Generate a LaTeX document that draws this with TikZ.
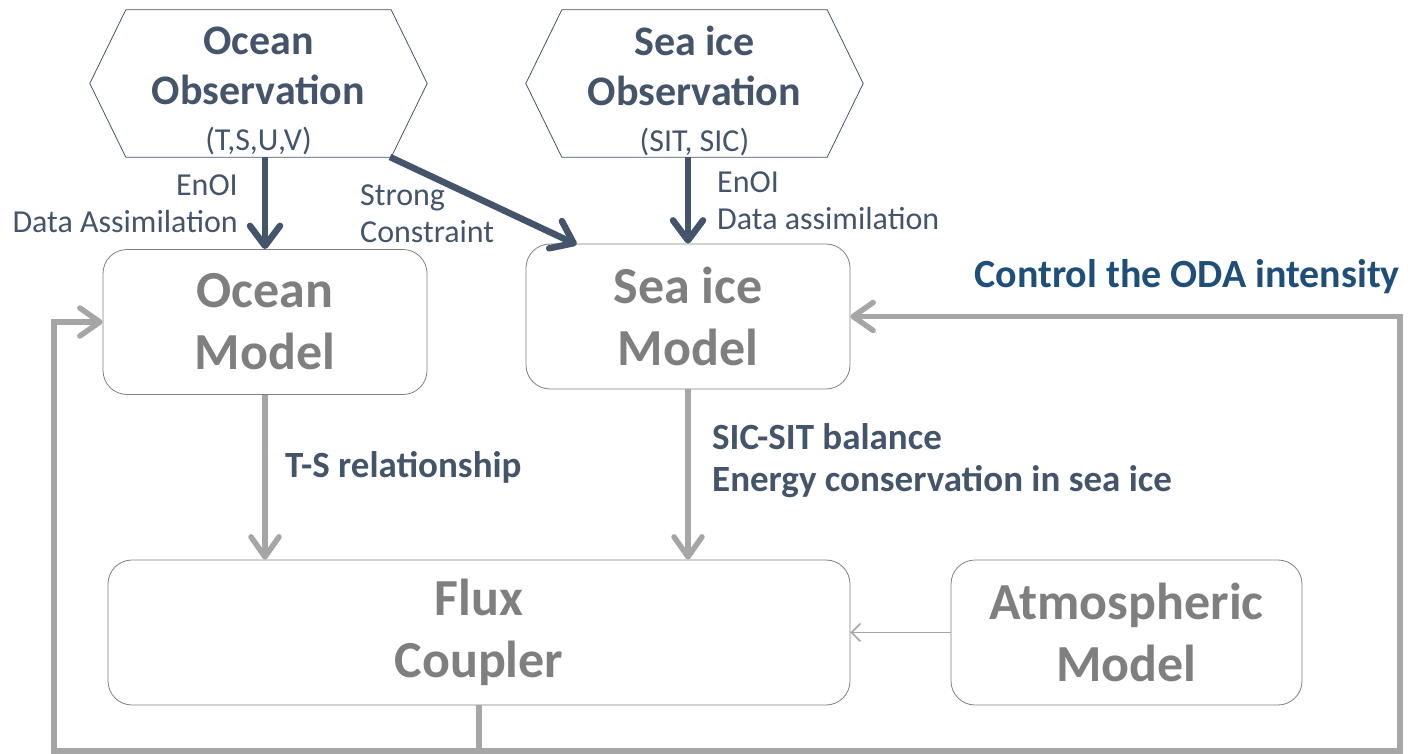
\documentclass[tikz,border=0pt]{standalone}
\usepackage{fontspec}
\setmainfont{Carlito}
\usetikzlibrary{arrows.meta}
\definecolor{obsblue}{HTML}{44546A}
\definecolor{linegray}{HTML}{A6A6A6}
\definecolor{boxgray}{HTML}{7F7F7F}
\definecolor{odablue}{HTML}{1F4E79}

\begin{document}
\begin{tikzpicture}[x=1pt,y=-1pt,
    obsbox/.style={minimum width=337pt,minimum height=147pt,inner sep=0pt,align=center,text=obsblue,
        font=\fontsize{42}{50}\selectfont\bfseries},
    modelbox/.style={draw=boxgray,line width=0.8pt,rounded corners=24pt,minimum height=145pt,inner sep=0pt,
        align=center,text=boxgray,font=\fontsize{52}{62}\selectfont\bfseries},
    obsarrow/.style={obsblue,line width=6.5pt,-{Straight Barb[round,length=20pt,width=30pt]}},
    modelarrow/.style={linegray,line width=5.5pt,-{Straight Barb[round,length=20pt,width=28pt]}},
    smalllabel/.style={text=obsblue,font=\fontsize{32}{37}\selectfont,inner sep=0pt},
    boldlabel/.style={text=obsblue,font=\fontsize{37}{42}\selectfont\bfseries,inner sep=0pt}]
    \useasboundingbox (0,0) rectangle (1408,754);
    % observations
    \node[obsbox] (oceanobs) at (258.5,91)
      {Ocean\\Observation\\[-4pt]{\fontsize{32}{36}\mdseries\selectfont (T,S,U,V)}};
    \node[obsbox] (iceobs) at (694.5,91)
      {Sea ice\\Observation\\[-4pt]{\fontsize{32}{36}\mdseries\selectfont (SIT, SIC)}};
    \foreach \o in {oceanobs,iceobs}
      \draw[obsblue,line width=0.8pt] ([yshift=7.5pt]\o.west) -- ([xshift=36pt,yshift=7.5pt]\o.north west)
        -- ([xshift=-36pt,yshift=7.5pt]\o.north east) -- ([yshift=7.5pt]\o.east)
        -- ([xshift=-36pt,yshift=7.5pt]\o.south east) -- ([xshift=36pt,yshift=7.5pt]\o.south west) -- cycle;
    % models
    \node[modelbox,minimum width=324pt] (oceanmod) at (265,322) {Ocean\\Model};
    \node[modelbox,minimum width=324pt] (icemod) at (688,316.5) {Sea ice\\Model};
    \node[modelbox,minimum width=742pt] (flux) at (479,632.5) {Flux\\Coupler};
    \node[modelbox,minimum width=351pt] (atmos) at (1126.5,632.5) {Atmospheric\\Model};
    % assimilation
    \draw[obsarrow] (oceanmod.north |- 0,157) -- (oceanmod.north);
    \draw[obsarrow] (390,157) -- ([xshift=51pt,yshift=-1pt]icemod.north west);
    \draw[obsarrow] (icemod.north |- 0,157) -- (icemod.north);
    \node[smalllabel,anchor=east,align=right] (oceanda) at (238,204) {EnOI\\Data Assimilation};
    \node[smalllabel,anchor=west,align=left] (strong) at (360,214) {Strong\\Constraint};
    \node[smalllabel,anchor=west,align=left] (iceda) at (717,201) {EnOI\\Data assimilation};
    % coupling
    \draw[modelarrow] (oceanmod.south) -- (oceanmod.south |- flux.north);
    \draw[modelarrow] (icemod.south) -- (icemod.south |- flux.north);
    \draw[linegray,line width=1.5pt,-{Straight Barb[length=9pt,width=18pt]}] (atmos.west) -- (flux.east);
    \node[boldlabel,anchor=west] (tslabel) at (285,467) {T-S relationship};
    \node[boldlabel,anchor=west,align=left] (icelabel) at (712,461) {SIC-SIT balance\\Energy conservation in sea ice};
    % feedback
    \coordinate (bl) at (54,751);
    \coordinate (br) at (1400,751);
    \draw[modelarrow] (flux.south) |- (bl) |- (oceanmod.west);
    \draw[modelarrow] (flux.south) |- (br) |- (icemod.east);
    \node[text=odablue,font=\fontsize{40}{44}\selectfont\bfseries,anchor=east,inner sep=0pt] (oda) at (1400,277) {Control the ODA intensity};
\end{tikzpicture}
\end{document}
